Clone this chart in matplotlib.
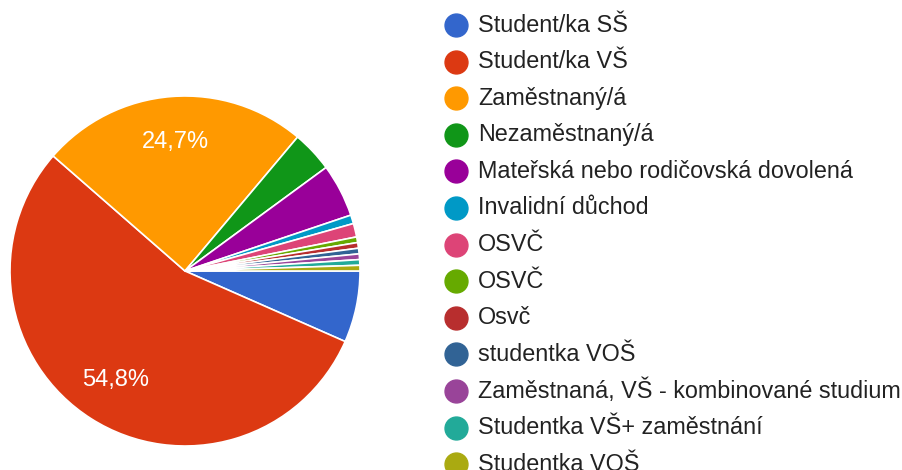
import matplotlib.pyplot as plt
from matplotlib.lines import Line2D

plt.rcParams['font.family'] = ['Liberation Sans', 'DejaVu Sans']

labels = [
    "Student/ka SŠ",
    "Student/ka VŠ",
    "Zaměstnaný/á",
    "Nezaměstnaný/á",
    "Mateřská nebo rodičovská dovolená",
    "Invalidní důchod",
    "OSVČ",
    "OSVČ",
    "Osvč",
    "studentka VOŠ",
    "Zaměstnaná, VŠ - kombinované studium",
    "Studentka VŠ+ zaměstnání",
    "Studentka VOŠ",
]
values = [6.6, 54.8, 24.7, 3.8, 4.9, 0.8, 1.25, 0.52, 0.52, 0.52, 0.52, 0.52, 0.52]
colors = ["#3366cc", "#dc3912", "#ff9900", "#109618", "#990099", "#0099c6",
          "#dd4477", "#66aa00", "#b82e2e", "#316395", "#994499", "#22aa99",
          "#aaaa11"]

W, H = 902, 470
fig = plt.figure(figsize=(W / 100, H / 100), dpi=100)

# pie axes: centre (185, 271) px, radius 175 px
cx, cy, r = 185, 271, 175
ax = fig.add_axes([(cx - r) / W, (H - cy - r) / H, 2 * r / W, 2 * r / H])


def fmt(p):
    return f"{p:.1f}".replace('.', ',') + '%' if p > 10 else ''


wedges, texts, autotexts = ax.pie(
    values, colors=colors, startangle=0, counterclock=False,
    autopct=fmt, pctdistance=0.74,
    wedgeprops=dict(edgecolor='white', linewidth=1.2),
    textprops=dict(color='white', fontsize=17))
ax.set_xlim(-1, 1)
ax.set_ylim(-1, 1)
ax.set_aspect('equal')
ax.axis('off')

# legend drawn row by row
x_dot, x_txt, y0, step = 456, 478, 25, 36.6
for i, (lab, col) in enumerate(zip(labels, colors)):
    y = y0 + i * step
    fig.add_artist(Line2D([x_dot / W], [1 - y / H], marker='o', markersize=16.5,
                          color=col, linestyle='none', transform=fig.transFigure))
    fig.text(x_txt / W, 1 - y / H, lab, fontsize=16.8, color='#222222',
             va='center', ha='left')

fig.savefig('out.png', dpi=100, facecolor='white')
